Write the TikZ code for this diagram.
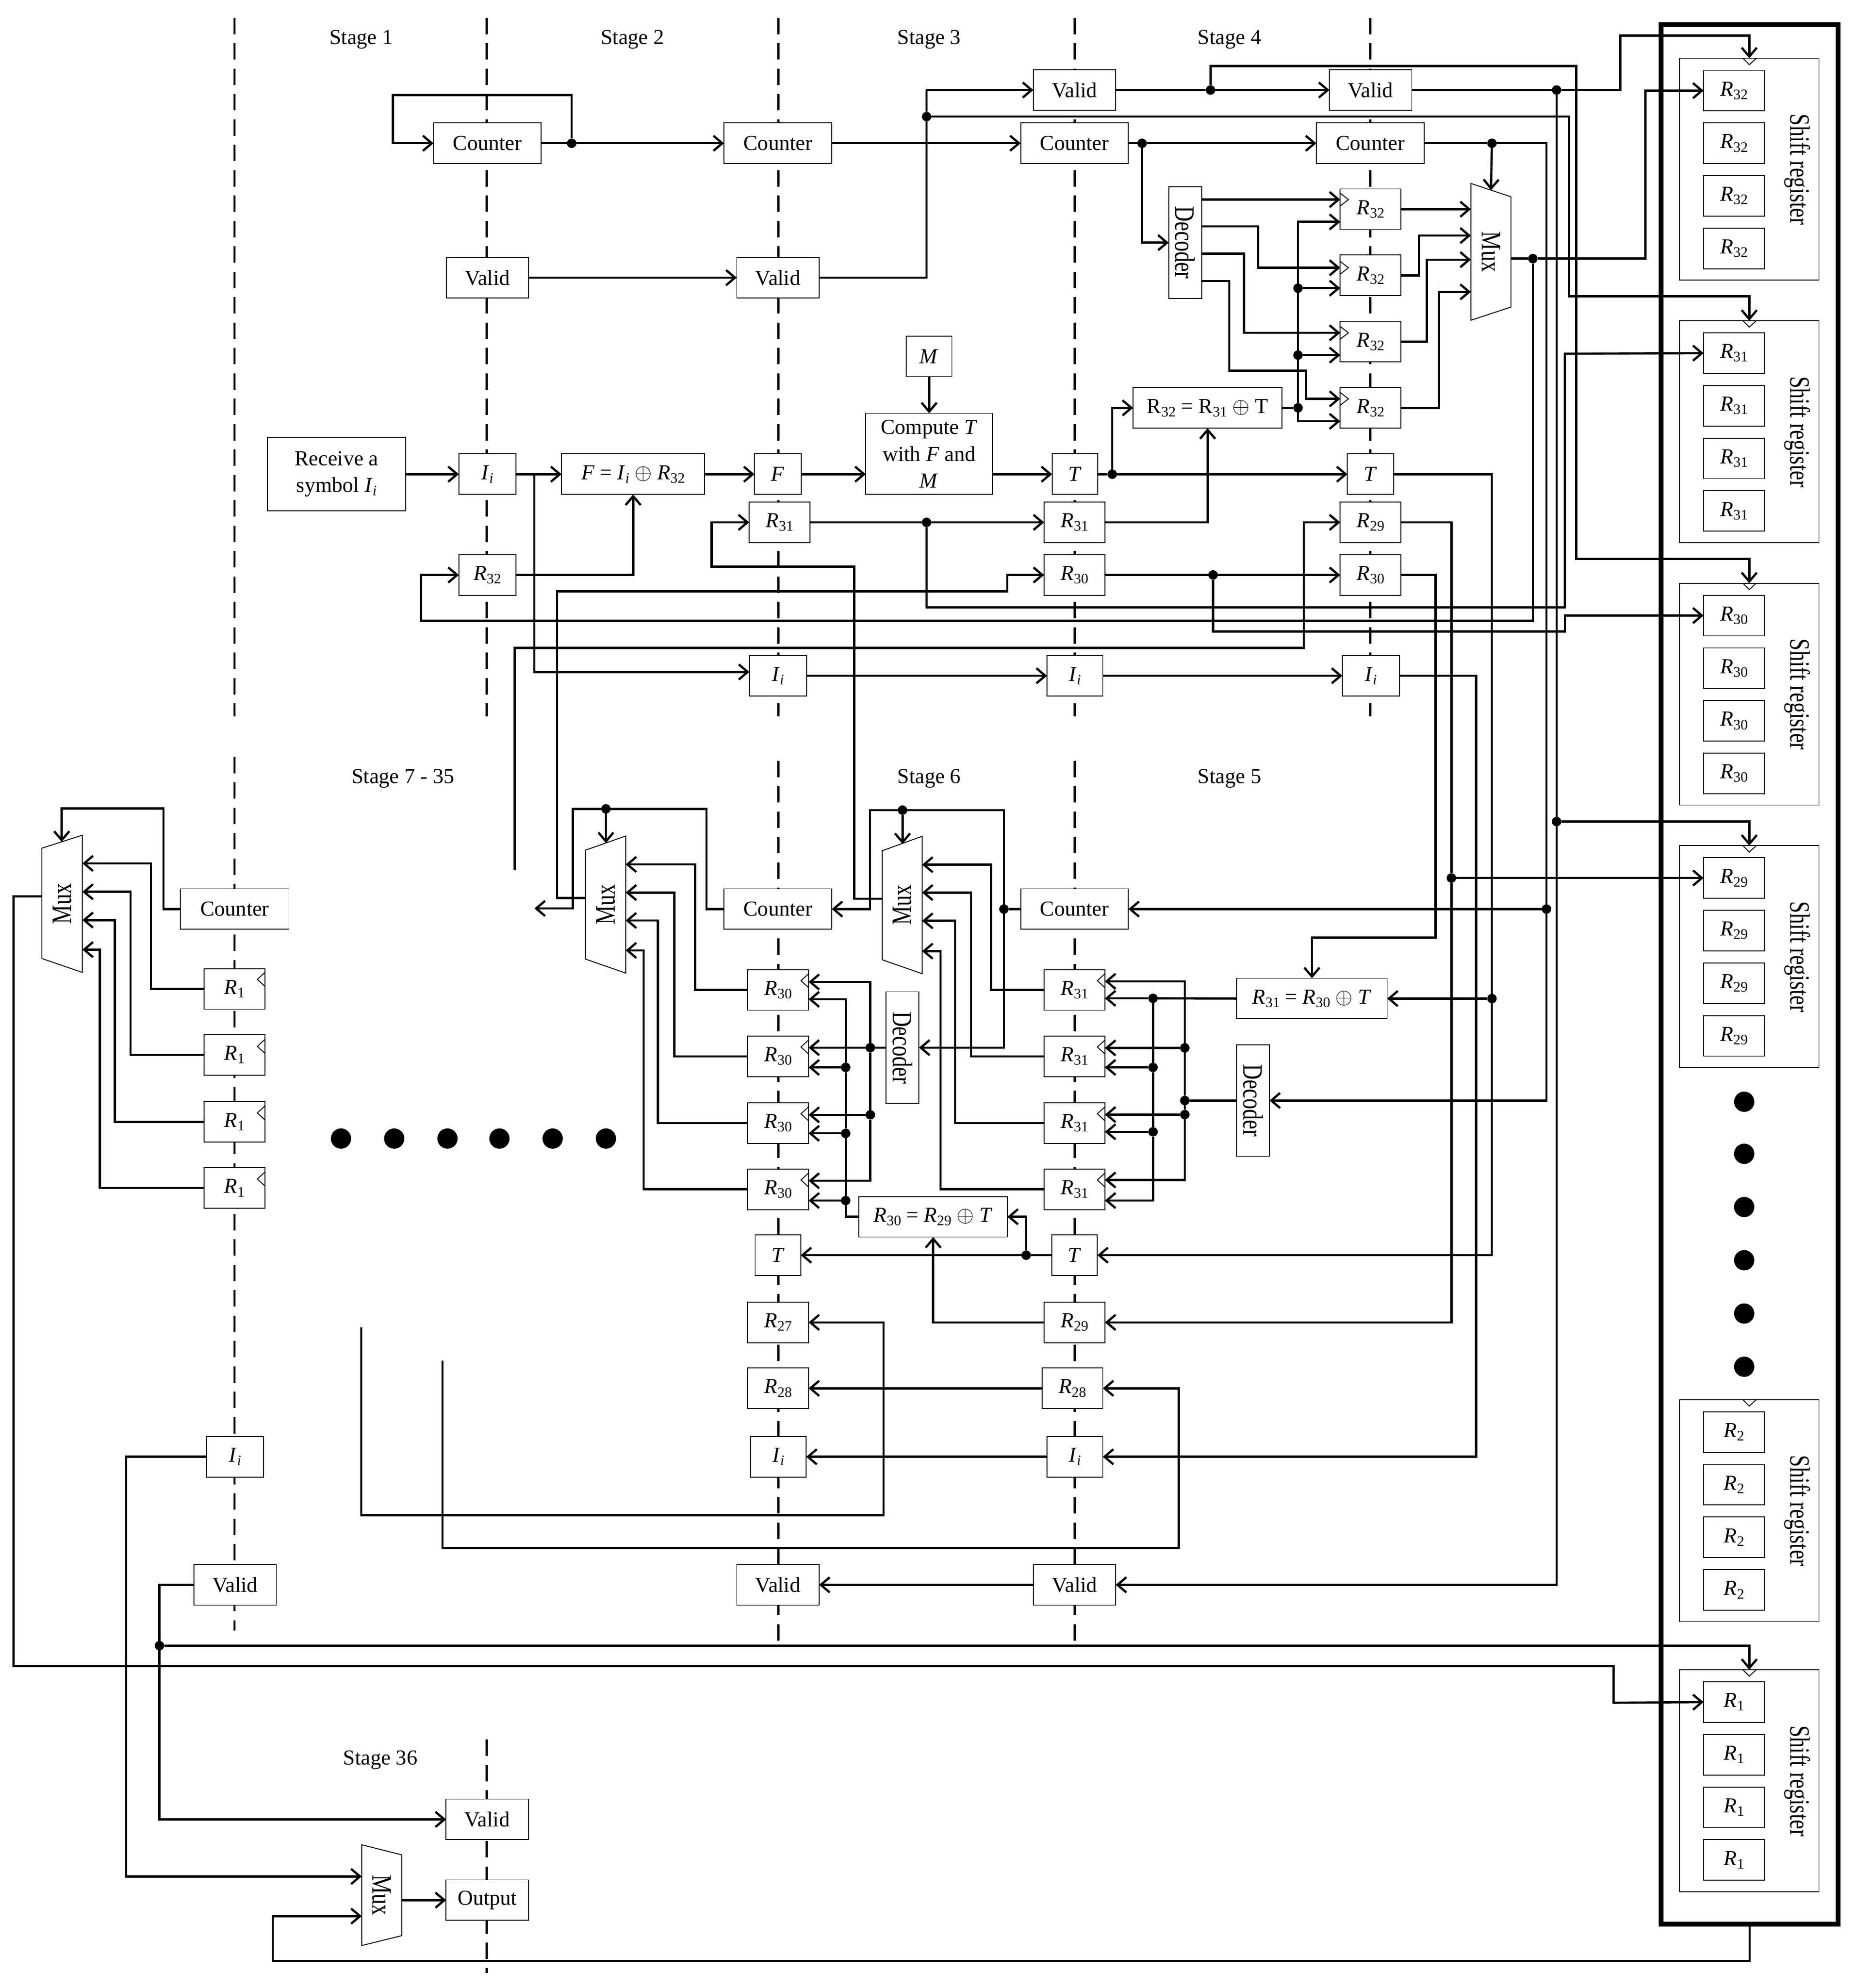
\documentclass[tikz,border=0pt]{standalone}
\usepackage{fontspec}
\setmainfont{Liberation Serif}
\usetikzlibrary{arrows.meta}
\newcommand{\subf}{\fontsize{6.5}{7}\selectfont}
\newcommand{\Rg}[1]{\textit{R}\raisebox{-.35ex}{\subf #1}}
\newcommand{\Ru}[1]{R\raisebox{-.35ex}{\subf #1}}
\newcommand{\Ii}{\textit{I}\raisebox{-.35ex}{\subf\textit{i}}}
\newcommand{\vtxt}[2]{\rotatebox{#1}{\scalebox{1}[1.32]{#2}}}
\tikzset{
  >={Straight Barb[length=4pt,width=6.8pt]},
  every node/.style={font=\fontsize{9.6}{12}\selectfont},
  b/.style 2 args={draw,fill=white,line width=.4pt,inner sep=0pt,outer sep=0pt,align=center,
     minimum width=#1*0.02cm,minimum height=#2*0.02cm},
  t/.style 2 args={inner sep=0pt,outer sep=0pt,
     minimum width=#1*0.02cm,minimum height=#2*0.02cm},
  w/.style={line width=1pt,line join=miter},
  thinl/.style={line width=.4pt},
  ds/.style={line width=1pt,dash pattern=on 7.4pt off 4pt},
  jn/.style={circle,fill=black,inner sep=0pt,outer sep=0pt,minimum size=0.15cm},
  big/.style={circle,fill=black,inner sep=0pt,minimum size=0.32cm},
  lb/.style={inner sep=0pt},
}
\newcommand{\clkl}[2]{\draw[thinl] (#1.west |- 0,#2-5) -- ++(6.5,5) -- ++(-6.5,5);}
\newcommand{\clkr}[2]{\draw[thinl] (#1.east |- 0,#2-5.5) -- ++(-6,5.5) -- ++(6,5.5);}
\newcommand{\SR}[3]{%
  \node[b={110}{175}] (#1) at (1380,#2+87.5) {};
  \node[t={17}{175}] (#1l) at (1418,#2+87.7) {\vtxt{-90}{Shift register}};
  \draw[thinl] (1375,#2) -- (1380,#2+5) -- (1385.5,#2);
  \node[b={48}{32}] (#1a) at (1368,#2+25.5) {\Rg{#3}};
  \node[b={48}{32}] (#1b) at (1368,#2+67) {\Rg{#3}};
  \node[b={48}{32}] (#1c) at (1368,#2+108.5) {\Rg{#3}};
  \node[b={48}{32}] (#1d) at (1368,#2+150) {\Rg{#3}};
}
\begin{document}
\begin{tikzpicture}[x=0.02cm,y=-0.02cm]
\useasboundingbox (0,0) rectangle (1463.87,1568);
% stage separators
\draw[ds] (185,14) -- (185,565);
\draw[ds] (384,14) -- (384,565);
\draw[ds] (614,14) -- (614,565);
\draw[ds] (848,14) -- (848,565);
\draw[ds] (1081,14) -- (1081,565);
\draw[ds] (185,597) -- (185,1286);
\draw[ds] (614,600) -- (614,1294);
\draw[ds] (848,600) -- (848,1294);
\draw[ds] (384,1372) -- (384,1556);
% stage labels
\node[lb] (s1) at (285,31) {Stage 1};
\node[lb] (s2) at (499,31) {Stage 2};
\node[lb] (s3) at (733,31) {Stage 3};
\node[lb] (s4) at (970,31) {Stage 4};
\node[lb] (s735) at (318,614) {Stage 7 - 35};
\node[lb] (s6) at (733,614) {Stage 6};
\node[lb] (s5) at (970,614) {Stage 5};
\node[lb] (s36) at (300,1388) {Stage 36};
% top rows
\node[b={85}{32}] (cA) at (384.5,113) {Counter};
\node[b={85}{32}] (cB) at (613.7,113) {Counter};
\node[b={85}{32}] (cC) at (847.7,113) {Counter};
\node[b={85}{32}] (cD) at (1081,113) {Counter};
\node[b={65}{32}] (vC) at (847.7,71) {Valid};
\node[b={65}{32}] (vD) at (1081.3,71) {Valid};
\node[b={65}{32}] (vA) at (384.5,219) {Valid};
\node[b={65}{32}] (vB) at (613.7,219) {Valid};
\node[b={26}{88}] (dec4) at (935,191.4) {\vtxt{-90}{Decoder}};
\node[b={48}{32}] (r32a) at (1081.3,165) {\Rg{32}};
\node[b={48}{32}] (r32b) at (1081.3,217.2) {\Rg{32}};
\node[b={48}{32}] (r32c) at (1081.3,269.5) {\Rg{32}};
\node[b={48}{32}] (r32d) at (1081.3,321.7) {\Rg{32}};
\clkl{r32a}{157.4}\clkl{r32b}{211.2}\clkl{r32c}{262.5}\clkl{r32d}{314.6}
\draw[thinl,fill=white] (1160.4,144.7) -- (1192,155.2) -- (1192,242.2) -- (1160.4,252.6) -- cycle;
\node[t={31.6}{108}] (mxA) at (1176.2,198.6) {\vtxt{-90}{Mux}};
\node[b={117.5}{32}] (xor1) at (952.7,321.7) {\Ru{32} = \Ru{31} $\oplus$ T};
\node[b={36.4}{32}] (tD) at (1081.2,374) {\textit{T}};
\node[b={48}{32}] (r29D) at (1081.3,412) {\Rg{29}};
\node[b={48}{32}] (r30D) at (1081.3,453.5) {\Rg{30}};
\node[b={45}{32}] (iD) at (1081.5,533) {\Ii};
\node[b={36}{32}] (tC) at (848,374) {\textit{T}};
\node[b={48}{32}] (r31C) at (847.7,412) {\Rg{31}};
\node[b={48}{32}] (r30C) at (847.7,453.5) {\Rg{30}};
\node[b={44}{32}] (iC) at (848,533) {\Ii};
\node[b={100}{64}] (comp) at (733,358) {Compute \textit{T}\\with \textit{F} and\\\textit{M}};
\node[b={36}{32}] (mM) at (733,281) {\textit{M}};
\node[b={37}{32}] (fB) at (613.7,374) {\textit{F}};
\node[b={48}{32}] (r31B) at (615,412) {\Rg{31}};
\node[b={45}{32}] (iB) at (613.7,533) {\Ii};
\node[b={113}{32}] (fbox) at (499.5,374) {\textit{F} = \Ii{} $\oplus$ \Rg{32}};
\node[b={45}{32}] (iA) at (384.5,374) {\Ii};
\node[b={45}{32}] (r32A) at (384.5,453.5) {\Rg{32}};
\node[b={109}{58}] (recv) at (265.5,374) {Receive a\\symbol \Ii};
% lower rows
\node[b={85}{32}] (cE) at (847.7,717) {Counter};
\node[b={85}{32}] (cF) at (613.7,717) {Counter};
\node[b={85.5}{32}] (cG) at (185.2,717) {Counter};
\node[b={48}{32}] (r31a) at (847.7,780.8) {\Rg{31}};
\node[b={48}{32}] (r31b) at (847.7,833.2) {\Rg{31}};
\node[b={48}{32}] (r31c) at (847.7,885.8) {\Rg{31}};
\node[b={48}{32}] (r31d) at (847.7,938) {\Rg{31}};
\clkr{r31a}{773.5}\clkr{r31b}{825.8}\clkr{r31c}{878.5}\clkr{r31d}{930.7}
\node[b={48}{32}] (r30a) at (613.9,780.8) {\Rg{30}};
\node[b={48}{32}] (r30b) at (613.9,833.2) {\Rg{30}};
\node[b={48}{32}] (r30c) at (613.9,885.8) {\Rg{30}};
\node[b={48}{32}] (r30d) at (613.9,938) {\Rg{30}};
\clkr{r30a}{773.5}\clkr{r30b}{825.8}\clkr{r30c}{878.5}\clkr{r30d}{930.7}
\node[b={26}{88}] (dec6) at (712,826.3) {\vtxt{-90}{Decoder}};
\node[b={26}{88}] (dec5) at (988.5,868) {\vtxt{-90}{Decoder}};
\node[b={118.7}{32}] (x31) at (1035,787.6) {\Rg{31} = \Rg{30} $\oplus$ \textit{T}};
\node[b={117}{32}] (x30) at (736.2,959.7) {\Rg{30} = \Rg{29} $\oplus$ \textit{T}};
\node[b={36}{32}] (tF) at (613.7,990) {\textit{T}};
\node[b={36}{32}] (tE) at (847.7,990) {\textit{T}};
\node[b={48}{32}] (r27) at (613.9,1043) {\Rg{27}};
\node[b={48}{32}] (r29E) at (847.7,1043) {\Rg{29}};
\node[b={48}{32}] (r28F) at (613.9,1095) {\Rg{28}};
\node[b={48}{32}] (r28E) at (846,1095) {\Rg{28}};
\node[b={44}{32}] (iF) at (614,1149) {\Ii};
\node[b={44}{32}] (iE) at (848,1149) {\Ii};
\node[b={65}{32}] (vF) at (613.7,1250) {Valid};
\node[b={65}{32}] (vE) at (847.7,1250) {Valid};
\draw[thinl,fill=white] (462,670.5) -- (493.6,659.4) -- (493.6,767.5) -- (462,756.5) -- cycle;
\node[t={31.6}{108}] (mxB) at (477.8,713.5) {\vtxt{90}{Mux}};
\draw[thinl,fill=white] (696,671) -- (727.5,659.6) -- (727.5,768) -- (696,757) -- cycle;
\node[t={31.5}{108}] (mxC) at (711.7,713.8) {\vtxt{90}{Mux}};
% left stage
\draw[thinl,fill=white] (33,669) -- (65,658.7) -- (65,767) -- (33,756) -- cycle;
\node[t={32}{108}] (mxL) at (49,712.8) {\vtxt{90}{Mux}};
\node[b={48}{32}] (r1a) at (185,780) {\Rg{1}};
\node[b={48}{32}] (r1b) at (185,832) {\Rg{1}};
\node[b={48}{32}] (r1c) at (185,884.8) {\Rg{1}};
\node[b={48}{32}] (r1d) at (185,937) {\Rg{1}};
\clkr{r1a}{772.5}\clkr{r1b}{825.3}\clkr{r1c}{877.8}\clkr{r1d}{929.9}
\node[b={45}{32}] (iG) at (185.5,1149) {\Ii};
\node[b={65}{32}] (vG) at (185.5,1250) {Valid};
% stage 36
\node[b={65}{32}] (v36) at (384.4,1435) {Valid};
\node[b={65}{32}] (out) at (384.4,1498.7) {Output};
\draw[thinl,fill=white] (285.4,1455) -- (317,1463) -- (317,1526.7) -- (285.4,1534.5) -- cycle;
\node[t={31.6}{79}] (mx36) at (301.2,1494.8) {\vtxt{-90}{Mux}};
% shift registers
\SR{sra}{46}{32}
\SR{srb}{253}{31}
\SR{src}{460}{30}
\SR{srd}{667}{29}
\SR{sre}{1104}{2}
\SR{srf}{1317}{1}
\node[draw,line width=2.1pt,inner sep=0pt,outer sep=0pt,minimum width=139.5*0.02cm,minimum height=1498*0.02cm] (bus) at (1380.25,768.5) {};
% ellipsis dots
\node[big] (e1) at (269,898) {};
\node[big] (e2) at (311,898) {};
\node[big] (e3) at (353,898) {};
\node[big] (e4) at (394,898) {};
\node[big] (e5) at (436,898) {};
\node[big] (e6) at (478,898) {};
\node[big] (f1) at (1376,869) {};
\node[big] (f2) at (1376,910) {};
\node[big] (f3) at (1376,952) {};
\node[big] (f4) at (1376,994) {};
\node[big] (f5) at (1376,1036) {};
\node[big] (f6) at (1376,1078) {};
% free ends
\coordinate (fr1) at (406,686.5);
\coordinate (fr2) at (285,1047);
\coordinate (fr3) at (349,1073);
\coordinate (fr4) at (421.6,716.5);
% junctions
\node[jn] (ja) at (451,113) {};
\node[jn] (jb) at (731,92) {};
\node[jn] (jc) at (955,71) {};
\node[jn] (jd) at (1228,71) {};
\node[jn] (je) at (1228,648) {};
\node[jn] (jg) at (901,113) {};
\node[jn] (jh) at (1177,113) {};
\node[jn] (jk) at (1220,717) {};
\node[jn] (jl) at (1209.3,204) {};
\node[jn] (jm) at (1024,321.7) {};
\node[jn] (jn1) at (1024,227.3) {};
\node[jn] (jn2) at (1024,280.1) {};
\node[jn] (jo) at (877.5,374) {};
\node[jn] (jp) at (1177,787.6) {};
\node[jn] (jq) at (1145,692.5) {};
\node[jn] (jr) at (957,453.5) {};
\node[jn] (js) at (731,412) {};
\node[jn] (jt) at (792,717) {};
\node[jn] (ju) at (712,639) {};
\node[jn] (jv) at (478,638) {};
\node[jn] (jw) at (686.6,826.3) {};
\node[jn] (jw2) at (686.6,879.3) {};
\node[jn] (jx1) at (667.2,841.9) {};
\node[jn] (jx2) at (667.2,893.9) {};
\node[jn] (jx3) at (667.2,946.9) {};
\node[jn] (jx) at (809.5,990) {};
\node[jn] (jy) at (909.6,787.4) {};
\node[jn] (jy1) at (909.6,841.9) {};
\node[jn] (jy2) at (909.6,892.7) {};
\node[jn] (jz) at (934.7,868) {};
\node[jn] (jz1) at (934.7,826.5) {};
\node[jn] (jz2) at (934.7,879.1) {};
\node[jn] (jA) at (125.8,1298) {};
% --- connectors, top
\draw[w] (cA.east) -- (ja);
\draw[w,->] (ja) -- (cB.west);
\draw[w,->] (ja) -- (451,75) -- (310,75) -- (310,113) -- (cA.west);
\draw[w,->] (cB.east) -- (cC.west);
\draw[w,->] (vA.east) -- (vB.west);
\draw[w] (vB.east) -- (731,219) -- (jb);
\draw[w,->] (jb) -- (731,71) -- (vC.west);
\draw[w,->] (jb) -- (1238,92) -- (1238,233.6) -- (1380,233.6) -- (srb.north);
\draw[w] (vC.east) -- (jc);
\draw[w,->] (jc) -- (vD.west);
\draw[w,->] (jc) -- (955,52) -- (1243.6,52) -- (1243.6,440.8) -- (1380,440.8) -- (src.north);
\draw[w] (vD.east) -- (jd);
\draw[w,->] (jd) -- (1278.3,71) -- (1278.3,28) -- (1380,28) -- (sra.north);
\draw[w] (jd) -- (je);
\draw[w,->] (je) -- (1380,648) -- (srd.north);
\draw[w,->] (je) -- (1228,1250) -- (vE.east);
\draw[w] (cC.east) -- (jg);
\draw[w,->] (jg) -- (cD.west);
\draw[w,->] (jg) -- (901,191.4) -- (dec4.west);
\draw[w] (cD.east) -- (jh);
\draw[w,->] (jh) -- (mxA.center |- 0,150);
\draw[w] (jh) -- (1220,113) -- (jk);
\draw[w,->] (jk) -- (cE.east);
\draw[w,->] (jk) -- (1220,868) -- (dec5.east);
\draw[w] (mxA.east |- 0,204) -- (jl);
\draw[w,->] (jl) -- (1298,204) -- (1298,71.5) -- (sraa.west);
\draw[w,->] (jl) -- (1209.3,489.7) -- (332,489.7) -- (332,453.5) -- (r32A.west);
\draw[w,->] (r32a.east) -- (mxA.west |- 0,165);
\draw[w,->] (r32b.east) -- (1119.5,217.2) -- (1119.5,185.8) -- (mxA.west |- 0,185.8);
\draw[w,->] (r32c.east) -- (1125.7,269.5) -- (1125.7,204.8) -- (mxA.west |- 0,204.8);
\draw[w,->] (r32d.east) -- (1135.2,321.7) -- (1135.2,230.2) -- (mxA.west |- 0,230.2);
\draw[w] (xor1.east) -- (jm);
\draw[w,->] (jm) -- (1024,175) -- (r32a.west |- 0,175);
\draw[w,->] (jm) -- (1024,332.3) -- (r32d.west |- 0,332.3);
\draw[w,->] (jn1) -- (r32b.west |- jn1);
\draw[w,->] (jn2) -- (r32c.west |- jn2);
\draw[w,->] (dec4.east |- 0,157.4) -- (r32a.west |- 0,157.4);
\draw[w,->] (dec4.east |- 0,178.6) -- (992.5,178.6) -- (992.5,211.2) -- (r32b.west |- 0,211.2);
\draw[w,->] (dec4.east |- 0,200) -- (981.5,200) -- (981.5,262.5) -- (r32c.west |- 0,262.5);
\draw[w,->] (dec4.east |- 0,221.6) -- (969.8,221.6) -- (969.8,292.5) -- (1030.4,292.5) -- (1030.4,314.6) -- (r32d.west |- 0,314.6);
% middle rows
\draw[w,->] (recv.east) -- (iA.west);
\draw[w,->] (iA.east) -- (fbox.west);
\draw[w,->] (421.6,374) -- (421.6,530) -- (iB.west |- 0,530);
\draw[w,->] (fbox.east) -- (fB.west);
\draw[w,->] (fB.east) -- (comp.west |- fB.east);
\draw[w,->] (mM.south) -- (comp.north);
\draw[w,->] (comp.east |- tC.west) -- (tC.west);
\draw[w] (tC.east) -- (jo);
\draw[w,->] (jo) -- (tD.west);
\draw[w,->] (jo) -- (877.5,321.7) -- (xor1.west);
\draw[w,->] (r31C.east) -- (952.7,412) -- (xor1.south);
\draw[w,->] (r32A.east) -- (499.5,453.5) -- (fbox.south);
\draw[w] (r31B.east) -- (js);
\draw[w,->] (js) -- (r31C.west);
\draw[w,->] (js) -- (731,479) -- (1234.5,479) -- (1234.5,279) -- (srba.west);
\draw[w] (r30C.east) -- (jr);
\draw[w,->] (jr) -- (r30D.west);
\draw[w,->] (jr) -- (957,498) -- (1234.5,498) -- (1234.5,485.5) -- (srca.west);
\draw[w,->] (iB.east) -- (iC.west);
\draw[w,->] (iC.east) -- (iD.west);
\draw[w] (tD.east) -- (1177,374) -- (jp);
\draw[w,->] (jp) -- (x31.east);
\draw[w,->] (jp) -- (1177,990) -- (tE.east);
\draw[w] (r29D.east) -- (1145,412) -- (jq);
\draw[w,->] (jq) -- (srda.west |- jq);
\draw[w,->] (jq) -- (1145,1043) -- (r29E.east);
\draw[w,->] (r30D.east) -- (1132.5,453.5) -- (1132.5,739.5) -- (1035,739.5) -- (x31.north);
\draw[w,->] (iD.east) -- (1164.5,533) -- (1164.5,1149) -- (iE.east);
\draw[w,->] (fr1) -- (406,511) -- (1028.5,511) -- (1028.5,412) -- (r29D.west);
\draw[w,->] (mxB.west |- 0,708.3) -- (439.5,708.3) -- (439.5,466.4) -- (794.7,466.4) -- (794.7,453.5) -- (r30C.west);
\draw[w,->] (mxC.west |- 0,708.8) -- (674,708.8) -- (674,447) -- (561.4,447) -- (561.4,412) -- (r31B.west);
% stage 5/6
\draw[w] (cE.west) -- (jt);
\draw[w,->] (jt) -- (792,639) -- (686.3,639) -- (686.3,717) -- (cF.east);
\draw[w,->] (ju) -- (712,665.7);
\draw[w,->] (jt) -- (792,826.3) -- (dec6.east);
\draw[w,->] (cF.west) -- (557.4,717) -- (557.4,638) -- (452,638) -- (452,716.5) -- (fr4);
\draw[w,->] (jv) -- (478,665);
\draw[w,->] (r31a.west) -- (782,780.8) -- (782,682) -- (mxC.east |- 0,682);
\draw[w,->] (r31b.west) -- (766,833.2) -- (766,704) -- (mxC.east |- 0,704);
\draw[w,->] (r31c.west) -- (753.4,885.8) -- (753.4,726.3) -- (mxC.east |- 0,726.3);
\draw[w,->] (r31d.west) -- (742,938) -- (742,750.2) -- (mxC.east |- 0,750.2);
\draw[w,->] (r30a.west) -- (548.3,780.8) -- (548.3,681.8) -- (mxB.east |- 0,681.8);
\draw[w,->] (r30b.west) -- (532,833.2) -- (532,704) -- (mxB.east |- 0,704);
\draw[w,->] (r30c.west) -- (519,885.8) -- (519,726) -- (mxB.east |- 0,726);
\draw[w,->] (r30d.west) -- (507.8,938) -- (507.8,749.6) -- (mxB.east |- 0,749.6);
\draw[w] (dec6.west) -- (jw);
\draw[w,->] (jw) -- (r30b.east |- jw);
\draw[w,->] (jw) -- (686.6,774.5) -- (r30a.east |- 0,774.5);
\draw[w] (jw) -- (jw2);
\draw[w,->] (jw2) -- (r30c.east |- jw2);
\draw[w,->] (jw2) -- (686.6,931.3) -- (r30d.east |- 0,931.3);
\draw[w] (x30.west) -- (667.2,959.7) -- (jx3);
\draw[w,->] (jx3) -- (r30d.east |- jx3);
\draw[w] (jx3) -- (jx2);
\draw[w,->] (jx2) -- (r30c.east |- jx2);
\draw[w] (jx2) -- (jx1);
\draw[w,->] (jx1) -- (r30b.east |- jx1);
\draw[w,->] (jx1) -- (667.2,788.2) -- (r30a.east |- 0,788.2);
\draw[w] (tE.west) -- (jx);
\draw[w,->] (jx) -- (tF.east);
\draw[w,->] (jx) -- (809.5,959.7) -- (x30.east);
\draw[w,->] (r29E.west) -- (736.2,1043) -- (x30.south);
\draw[w] (x31.west) -- (jy);
\draw[w,->] (jy) -- (r31a.east |- jy);
\draw[w] (jy) -- (jy1);
\draw[w,->] (jy1) -- (r31b.east |- jy1);
\draw[w] (jy1) -- (jy2);
\draw[w,->] (jy2) -- (r31c.east |- jy2);
\draw[w,->] (jy2) -- (909.6,946.9) -- (r31d.east |- 0,946.9);
\draw[w] (dec5.west) -- (jz);
\draw[w] (jz) -- (jz1);
\draw[w,->] (jz1) -- (r31b.east |- jz1);
\draw[w,->] (jz1) -- (934.7,774) -- (r31a.east |- 0,774);
\draw[w] (jz) -- (jz2);
\draw[w,->] (jz2) -- (r31c.east |- jz2);
\draw[w,->] (jz2) -- (934.7,930.7) -- (r31d.east |- 0,930.7);
% bottom of stages 5/6
\draw[w,->] (fr2) -- (285,1195) -- (697,1195) -- (697,1043) -- (r27.east);
\draw[w,->] (fr3) -- (349,1221) -- (930,1221) -- (930,1095) -- (r28E.east);
\draw[w,->] (r28E.west) -- (r28F.east);
\draw[w,->] (iE.west) -- (iF.east);
\draw[w,->] (vE.west) -- (vF.east);
% left stage
\draw[w,->] (cG.west) -- (129,717) -- (129,637.7) -- (48.7,637.7) -- (48.7,664);
\draw[w,->] (r1a.west) -- (119,780) -- (119,681) -- (mxL.east |- 0,681);
\draw[w,->] (r1b.west) -- (103,832) -- (103,703.4) -- (mxL.east |- 0,703.4);
\draw[w,->] (r1c.west) -- (90.5,884.8) -- (90.5,725.7) -- (mxL.east |- 0,725.7);
\draw[w,->] (r1d.west) -- (78.8,937) -- (78.8,749) -- (mxL.east |- 0,749);
\draw[w,->] (mxL.west |- 0,707) -- (10.7,707) -- (10.7,1314) -- (1273,1314) -- (1273,1343) -- (srfa.west);
\draw[w,->] (iG.west) -- (99.6,1149) -- (99.6,1480) -- (mx36.west |- 0,1480);
\draw[w] (vG.west) -- (125.8,1250) -- (jA);
\draw[w,->] (jA) -- (125.8,1435) -- (v36.west);
\draw[w,->] (jA) -- (1380,1298) -- (srf.north);
\draw[w,->] (bus.south) -- (1380.25,1546.6) -- (215.2,1546.6) -- (215.2,1511.3) -- (mx36.west |- 0,1511.3);
\draw[w,->] (mx36.east |- 0,1498.7) -- (out.west);
\end{tikzpicture}
\end{document}
